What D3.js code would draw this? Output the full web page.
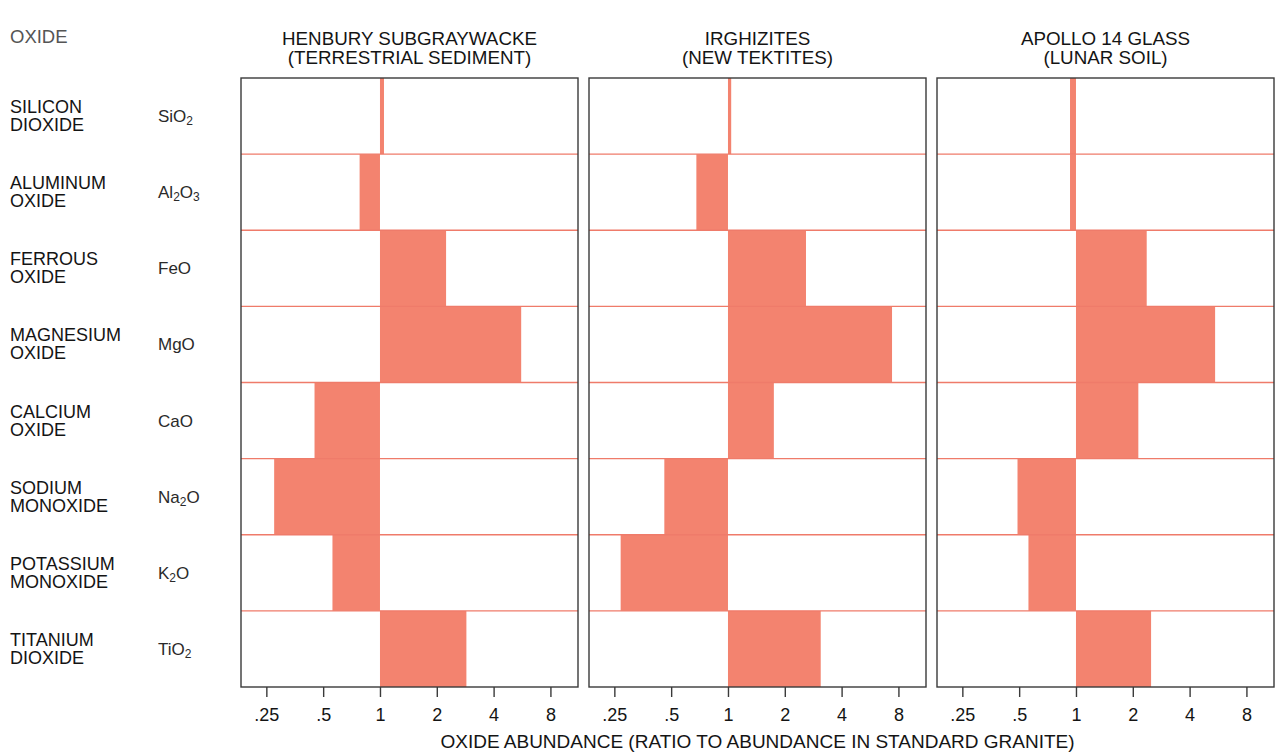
<!DOCTYPE html>
<html><head><meta charset="utf-8">
<script src="https://cdn.jsdelivr.net/npm/d3@7"></script>
<style>body{margin:0;background:#fff} svg{display:block} text{font-family:"Liberation Sans",Arial,sans-serif}</style>
</head><body><svg id="chart" width="1279" height="752"></svg>
<script>
// ---- data ----
const oxideNames = [["SILICON","DIOXIDE"],["ALUMINUM","OXIDE"],["FERROUS","OXIDE"],["MAGNESIUM","OXIDE"],["CALCIUM","OXIDE"],["SODIUM","MONOXIDE"],["POTASSIUM","MONOXIDE"],["TITANIUM","DIOXIDE"]];
const formulas = [
  [["SiO",0],["2",1]],
  [["Al",0],["2",1],["O",0],["3",1]],
  [["FeO",0]],
  [["MgO",0]],
  [["CaO",0]],
  [["Na",0],["2",1],["O",0]],
  [["K",0],["2",1],["O",0]],
  [["TiO",0],["2",1]]
];
const panelTitles = [["HENBURY SUBGRAYWACKE","(TERRESTRIAL SEDIMENT)"],["IRGHIZITES","(NEW TEKTITES)"],["APOLLO 14 GLASS","(LUNAR SOIL)"]];
const henbury    = [1.05, 0.78, 2.24, 5.6, 0.45, 0.275, 0.56, 2.87];
const irghizites = [1.04, 0.68, 2.59, 7.4, 1.75, 0.46, 0.27, 3.1];
const apollo     = [0.93, 0.93, 2.37, 5.46, 2.14, 0.49, 0.56, 2.5];
const tickValues = [0.25, 0.5, 1, 2, 4, 8];
const tickLabels = [".25", ".5", "1", "2", "4", "8"];
const headerLabel = "OXIDE";
const axisTitle = "OXIDE ABUNDANCE (RATIO TO ABUNDANCE IN STANDARD GRANITE)";

const series = [henbury, irghizites, apollo];

// ---- layout ----
const svg = d3.select("#chart");
const topY = 78, plotH = 609, panelW = 337, firstLeft = 241, panelStep = 348;
const barColor = "#f3836f", sepColor = "#ef7b6a", frameColor = "#3a3a3a", textColor = "#141414";
const fs = 18;

const x = d3.scaleLog().base(2).domain([0.1835, 11.2]).range([0, panelW]);
const y = d3.scaleBand().domain(d3.range(oxideNames.length)).range([0, plotH]).padding(0);

// header
svg.append("text").attr("x", 10).attr("y", 43).attr("fill", "#555").attr("font-size", 18.5).text(headerLabel);

// row labels (two separate text lines each)
const rows = svg.append("g");
oxideNames.forEach((nm, i) => {
  const cy = topY + y(i) + y.bandwidth() / 2;
  rows.append("text").attr("x", 10).attr("y", cy - 3).attr("fill", textColor).attr("font-size", 18).text(nm[0]);
  rows.append("text").attr("x", 10).attr("y", cy + 15).attr("fill", textColor).attr("font-size", 18).text(nm[1]);
  const f = rows.append("text").attr("x", 158).attr("y", cy + 6).attr("fill", "#2a2a2a").attr("font-size", 17);
  let prevSub = false;
  formulas[i].forEach(part => {
    const ts = f.append("tspan").text(part[0]);
    if (part[1]) { ts.attr("font-size", 12).attr("dy", 3); prevSub = true; }
    else { ts.attr("dy", prevSub ? -3 : 0); prevSub = false; }
  });
});

// panels
series.forEach((vals, p) => {
  const g = svg.append("g").attr("transform", `translate(${firstLeft + p * panelStep},${topY})`);
  g.selectAll("rect.bar").data(vals).join("rect").attr("class", "bar")
    .attr("x", d => Math.min(x(1), x(d)))
    .attr("width", d => Math.abs(x(d) - x(1)))
    .attr("y", (d, i) => y(i))
    .attr("height", y.bandwidth())
    .attr("fill", barColor);
  g.selectAll("line.sep").data(d3.range(1, oxideNames.length)).join("line").attr("class", "sep")
    .attr("x1", 0).attr("x2", panelW)
    .attr("y1", d => y(d)).attr("y2", d => y(d))
    .attr("stroke", sepColor).attr("stroke-width", 1.3);
  g.append("rect").attr("x", 0).attr("y", 0).attr("width", panelW).attr("height", plotH)
    .attr("fill", "none").attr("stroke", frameColor).attr("stroke-width", 1.4);
  const ax = g.append("g").attr("transform", `translate(0,${plotH})`)
    .call(d3.axisBottom(x).tickValues(tickValues).tickFormat((d, i) => tickLabels[i]).tickSize(10).tickPadding(11));
  ax.select(".domain").remove();
  ax.selectAll(".tick line").attr("stroke", frameColor).attr("stroke-width", 1.4);
  ax.selectAll(".tick text").attr("font-size", fs).attr("fill", textColor).attr("font-family", '"Liberation Sans",Arial,sans-serif');
  const cx = panelW / 2;
  g.append("text").attr("x", cx).attr("y", 45 - topY).attr("text-anchor", "middle").attr("font-size", 18.8).attr("fill", textColor).text(panelTitles[p][0]);
  g.append("text").attr("x", cx).attr("y", 64 - topY).attr("text-anchor", "middle").attr("font-size", 18.8).attr("fill", textColor).text(panelTitles[p][1]);
});

svg.append("text").attr("x", (firstLeft + firstLeft + 2 * panelStep + panelW) / 2).attr("y", 748)
  .attr("text-anchor", "middle").attr("font-size", 19).attr("fill", textColor).text(axisTitle);
</script></body></html>
